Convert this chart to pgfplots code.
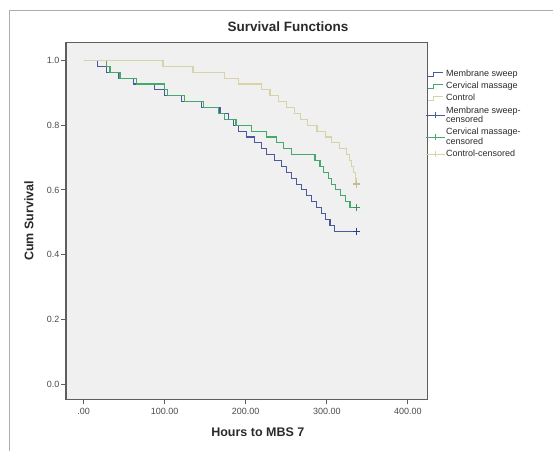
\documentclass[border=0pt]{standalone}
\usepackage{fontspec}
\setmainfont{Liberation Sans}
\usepackage{pgfplots}
\pgfplotsset{compat=1.18}

\definecolor{sweep}{HTML}{4A5A9C}
\definecolor{sweepdark}{HTML}{2F3D8E}
\definecolor{massage}{HTML}{45A96C}
\definecolor{control}{HTML}{D8D2A8}
\definecolor{plotbg}{HTML}{F0F0F0}
\definecolor{axisgray}{HTML}{5E5E5E}
\definecolor{framegray}{HTML}{A6AEB6}
\definecolor{txt}{HTML}{2A2A2A}

\begin{document}
\begin{tikzpicture}
\path[use as bounding box] (0pt,0pt) rectangle (553pt,451pt);
\draw[framegray, line width=0.8pt] (9pt,0pt) |- (553pt,441pt);
\begin{axis}[
    at={(66pt,51.7pt)}, anchor=south west,
    scale only axis,
    width=361.3pt, height=356.6pt,
    xmin=-21.6, xmax=424,
    ymin=-0.047, ymax=1.055,
    axis background/.style={fill=plotbg},
    axis line style={draw=axisgray, line width=1.2pt},
    xtick={0,100,200,300,400},
    xticklabels={.00,100.00,200.00,300.00,400.00},
    ytick={0,0.2,0.4,0.6,0.8,1.0},
    yticklabels={0.0,0.2,0.4,0.6,0.8,1.0},
    xtick pos=bottom, ytick pos=left,
    tick align=outside,
    major tick length=5pt,
    tick style={draw=axisgray, line width=1pt},
    tick label style={font=\fontsize{9}{10}\selectfont, text=txt!85},
    yticklabel style={inner sep=1.5pt},
    /pgf/number format/assume math mode=true,
    title={Survival Functions},
    title style={at={(axis description cs:0.6145,1.014)}, anchor=base,
                 font=\fontsize{13.5}{14}\selectfont\bfseries, text=txt},
    xlabel={Hours to MBS 7},
    xlabel style={at={(axis description cs:0.531,-0.103)}, anchor=base,
                  font=\fontsize{12.5}{13}\selectfont\bfseries, text=txt},
    ylabel={Cum Survival},
    ylabel style={at={(axis description cs:-0.1024,0.5)}, anchor=center,
                  font=\fontsize{12.5}{13}\selectfont\bfseries, text=txt},
    legend style={at={(axis description cs:0.994,0.927)}, anchor=north west,
                  draw=none, fill=none, inner sep=0pt, row sep=2.2pt,
                  font=\fontsize{9}{9.5}\selectfont, text=txt,
                  cells={anchor=west, align=left},
                  nodes={inner sep=1pt}},
    legend cell align=left,
]
% Membrane sweep
\addplot[const plot, color=sweep, line width=1.1pt,
    legend image code/.code={\draw[sweep, line width=0.8pt] (0pt,-2pt) -- (6pt,-2pt) -- (6pt,2pt) -- (15pt,2pt);}]
coordinates {
(0,1)(17.5,0.9818)(28.6,0.9636)(43,0.9455)(62,0.9273)(88,0.9091)(100,0.8909)
(121,0.8727)(145,0.8545)(168.3,0.8364)(178.6,0.8182)(184.8,0.8)(191,0.7818)
(201,0.7636)(211.4,0.7455)(219.6,0.7273)(226,0.7091)(236,0.6909)(244,0.6727)
(250.5,0.6545)(256.6,0.6364)(262.8,0.6182)(269,0.6)(275,0.5818)(281,0.5636)
(287,0.5455)(293,0.5273)(298,0.5091)(304,0.4909)(310,0.4727)(337,0.4727)
};
\addlegendentry{Membrane sweep}
% Cervical massage
\addplot[const plot, color=massage, line width=1.1pt,
    legend image code/.code={\draw[massage, line width=0.8pt] (0pt,-2pt) -- (6pt,-2pt) -- (6pt,2pt) -- (15pt,2pt);}]
coordinates {
(0,1)(28.6,0.9818)(32.7,0.9636)(45,0.9455)(65,0.9273)(100,0.9091)(104,0.8909)
(125,0.8727)(148,0.8545)(166,0.8364)(174,0.8182)(188,0.8)(207,0.7818)
(226,0.7636)(238,0.7455)(247,0.7273)(257,0.7091)(285.5,0.6909)(291.6,0.6727)
(296.5,0.6545)(301.9,0.6364)(306,0.6182)(311.3,0.6)(317,0.5818)(322.8,0.5636)
(328.6,0.5455)(337,0.5455)
};
\addlegendentry{Cervical massage}
% Control
\addplot[const plot, color=control, line width=1.1pt,
    legend image code/.code={\draw[control, line width=0.8pt] (0pt,-2pt) -- (6pt,-2pt) -- (6pt,2pt) -- (15pt,2pt);}]
coordinates {
(0,1)(98,0.9818)(135,0.9636)(174,0.9455)(191,0.9273)(220,0.9091)(230,0.8909)
(240,0.8727)(250,0.8545)(260,0.8364)(268,0.8182)(276,0.8)(288,0.7818)
(298,0.7636)(306,0.7455)(316,0.7273)(324,0.7091)(328,0.6909)(331,0.6727)
(333,0.6545)(335,0.6364)(336,0.6182)(337,0.6182)
};
\addlegendentry{Control}
% censored marks
\addplot[only marks, mark=+, mark size=3.5pt, color=sweepdark, mark options={line width=1.2pt},
    legend image code/.code={\draw[sweep, line width=0.8pt] (-2pt,0pt) -- (17pt,0pt); \draw[sweep, line width=0.8pt] (7.5pt,-3pt) -- (7.5pt,3pt);}]
coordinates {(337,0.4727)};
\addlegendentry{Membrane sweep-\\censored}
\addplot[only marks, mark=+, mark size=3.5pt, color=massage!85!black, mark options={line width=1.2pt},
    legend image code/.code={\draw[massage, line width=0.8pt] (-2pt,0pt) -- (17pt,0pt); \draw[massage, line width=0.8pt] (7.5pt,-3pt) -- (7.5pt,3pt);}]
coordinates {(337,0.5455)};
\addlegendentry{Cervical massage-\\censored}
\addplot[only marks, mark=+, mark size=3.5pt, color=control!90!black, mark options={line width=1.2pt},
    legend image code/.code={\draw[control, line width=0.8pt] (-2pt,0pt) -- (17pt,0pt); \draw[control, line width=0.8pt] (7.5pt,-3pt) -- (7.5pt,3pt);}]
coordinates {(337,0.6182)};
\addlegendentry{Control-censored}
\node[font=\fontsize{10.5}{11}\selectfont, text=txt!80] at (axis description cs:1.140,0.9655) {Methods};
\end{axis}
\end{tikzpicture}
\end{document}
